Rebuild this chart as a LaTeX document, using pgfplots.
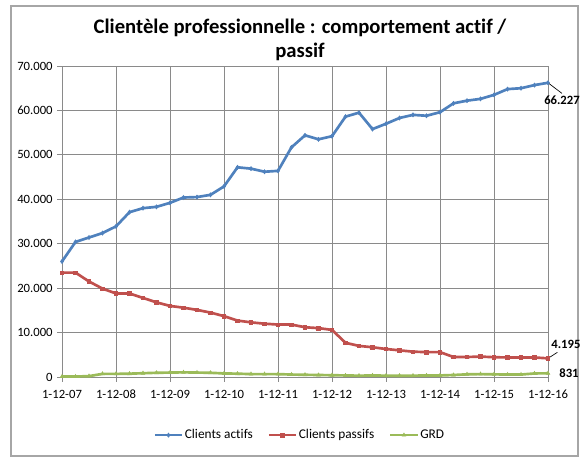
\documentclass[border=0pt]{standalone}
\usepackage{pgfplots}
\pgfplotsset{compat=1.18}
\usepackage{pgfplotstable}
\usepackage{fontspec}
\setmainfont[Ligatures=NoCommon]{Carlito}
\definecolor{xlblue}{HTML}{4F81BD}
\definecolor{xlred}{HTML}{C0504D}
\definecolor{xlgreen}{HTML}{9BBB59}
\definecolor{gridgray}{HTML}{8A8A8A}

\pgfplotstableread{
x y
0 26000
1 30400
2 31400
3 32400
4 33900
5 37100
6 38000
7 38300
8 39200
9 40400
10 40500
11 41000
12 42900
13 47200
14 46900
15 46200
16 46400
17 51700
18 54400
19 53500
20 54200
21 58600
22 59500
23 55800
24 57000
25 58300
26 59000
27 58800
28 59600
29 61600
30 62200
31 62600
32 63500
33 64800
34 65000
35 65700
36 66227
}\actifs

\pgfplotstableread{
x y
0 23500
1 23500
2 21500
3 19900
4 18800
5 18800
6 17800
7 16800
8 16000
9 15600
10 15100
11 14500
12 13700
13 12700
14 12300
15 12000
16 11800
17 11800
18 11200
19 11000
20 10600
21 7700
22 7000
23 6700
24 6300
25 6000
26 5700
27 5600
28 5600
29 4500
30 4500
31 4600
32 4450
33 4400
34 4400
35 4400
36 4195
}\passifs

\pgfplotstableread{
x y
0 100
1 100
2 200
3 700
4 700
5 750
6 850
7 950
8 1000
9 1050
10 1000
11 950
12 800
13 750
14 650
15 650
16 650
17 550
18 500
19 450
20 400
21 350
22 300
23 350
24 300
25 300
26 300
27 350
28 350
29 450
30 600
31 650
32 600
33 550
34 550
35 800
36 831
}\grd

\begin{document}
\begin{tikzpicture}[x=0.75pt,y=0.75pt]
\useasboundingbox (0,0) rectangle (585,461);
\draw[color=black!35, line width=0.9pt] (11,5) rectangle (578,455);
\node[font=\bfseries\fontsize{15.5}{18}\selectfont, align=center] at (300,421.5) {Clientèle professionnelle : comportement actif /\\passif};
\begin{axis}[
  at={(46.5pt,63pt)}, anchor=south west,
  scale only axis, width=364.5pt, height=233.25pt,
  xmin=0, xmax=36, ymin=0, ymax=70000,
  xtick={0,4,...,36},
  xticklabels={1-12-07,1-12-08,1-12-09,1-12-10,1-12-11,1-12-12,1-12-13,1-12-14,1-12-15,1-12-16},
  ytick={0,10000,...,70000},
  yticklabels={0,10.000,20.000,30.000,40.000,50.000,60.000,70.000},
  scaled y ticks=false,
  grid=major,
  major grid style={gridgray, line width=0.6pt},
  axis line style={gridgray, line width=0.6pt},
  tick style={gridgray, line width=0.6pt},
  tick align=outside,
  major tick length=3.5pt,
  axis x line*=bottom, axis y line*=left,
  tick label style={font=\fontsize{9.5}{11}\selectfont, text=black},
  xticklabel style={anchor=base, yshift=-12.5pt},
  legend style={at={(0.49,-0.187)}, anchor=center, legend columns=-1, draw=none, font=\fontsize{10}{12}\selectfont, /tikz/every even column/.append style={column sep=9pt}, /tikz/every odd column/.append style={column sep=-1pt}},
  legend image code/.code={\draw[mark repeat=2,mark phase=2] plot coordinates {(0cm,0cm) (0.36cm,0cm) (0.72cm,0cm)};},
  clip=false,
]
\addplot[xlblue, line width=2pt, mark=diamond*, mark size=1.5pt, mark options={line width=0.5pt}] table[x=x,y=y] {\actifs};
\addlegendentry{Clients actifs}
\addplot[xlred, line width=2pt, mark=square*, mark size=1.3pt, mark options={line width=0.5pt}] table[x=x,y=y] {\passifs};
\addlegendentry{Clients passifs}
\addplot[xlgreen, line width=2pt, mark=triangle*, mark size=1.5pt, mark options={line width=0.5pt}] table[x=x,y=y] {\grd};
\addlegendentry{GRD}
\draw[black, line width=0.5pt] (axis cs:36,66227) -- ++(10.5pt,-8pt);
\node[font=\bfseries\fontsize{9.5}{11}\selectfont, anchor=north] at ([xshift=10.5pt,yshift=-6pt]axis cs:36,66227) {66.227};
\draw[black, line width=0.5pt] (axis cs:36,4195) -- ++(7pt,4.5pt);
\node[font=\bfseries\fontsize{9.5}{11}\selectfont, anchor=south west] at ([xshift=-1pt,yshift=4pt]axis cs:36,4195) {4.195};
\node[font=\bfseries\fontsize{9.5}{11}\selectfont, anchor=west] at ([xshift=5pt,yshift=0pt]axis cs:36,831) {831};
\end{axis}
\end{tikzpicture}
\end{document}
